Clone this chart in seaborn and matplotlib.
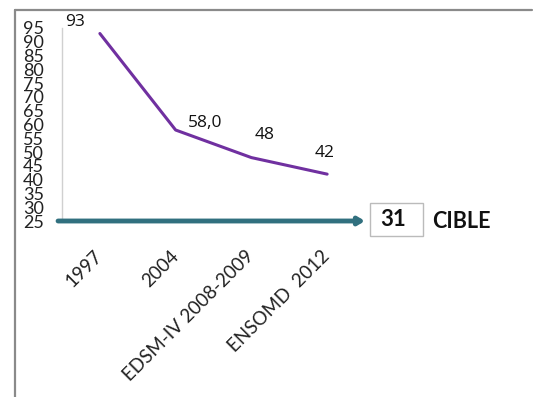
import matplotlib
matplotlib.use("Agg")
import matplotlib.pyplot as plt
from matplotlib.lines import Line2D
import pandas as pd
import seaborn as sns

# Survey rounds and the indicator value for each
periods = ["1997", "2004", "EDSM-IV 2008-2009", "ENSOMD  2012"]
values = [93, 58.0, 48, 42]
value_labels = ["93", "58,0", "48", "42"]
target = 31
target_label = "CIBLE"
y_ticks = list(range(25, 100, 5))

df = pd.DataFrame({"period": periods, "value": values})

sns.set_theme(style="white")
plt.rcParams["font.family"] = ["Lato", "DejaVu Sans"]

W, H = 533, 397
fig = plt.figure(figsize=(W / 100, H / 100), dpi=100)
fig.patch.set_facecolor("white")

ax = fig.add_axes([62 / W, 1 - 221 / H, 303 / W, (221 - 28) / H])
sns.lineplot(data=df, x="period", y="value", ax=ax, color="#7030a0",
             linewidth=2.2, sort=False)

ax.set_xlim(-0.5, 3.5)
ax.set_ylim(25, 95)
ax.set_yticks(y_ticks)
ax.set_yticklabels([str(t) for t in y_ticks], fontsize=13, color="#222222")
ax.set_xlabel("")
ax.set_ylabel("")
ax.tick_params(axis="y", length=0, pad=13)
ax.tick_params(axis="x", length=0, pad=23)
for lab in ax.get_xticklabels():
    lab.set_rotation(45)
    lab.set_ha("right")
    lab.set_va("center")
    lab.set_rotation_mode("anchor")
    lab.set_fontsize(13.5)
    lab.set_color("#222222")

for side in ["top", "right", "bottom"]:
    ax.spines[side].set_visible(False)
ax.spines["left"].set_color("#d0d0d0")
ax.spines["left"].set_linewidth(1.0)
ax.spines["left"].set_bounds(26, 95)

# Value labels next to each point
offsets = [(-18, 8.5), (21, 5), (9.5, 16), (-2, 15)]
for i, (v, txt, off) in enumerate(zip(values, value_labels, offsets)):
    ax.annotate(txt, xy=(i, v), xytext=off, textcoords="offset points",
                ha="center", va="center", fontsize=12.5, color="#111111",
                family=["Open Sans", "DejaVu Sans"])

# Target arrow along the baseline
ax.annotate("", xy=(1.0, 0.0), xytext=(-0.013, 0.0),
            xycoords="axes fraction", textcoords="axes fraction",
            arrowprops=dict(arrowstyle="-|>,head_length=0.3,head_width=0.18",
                            color="#31707f", lw=3.5, shrinkA=0, shrinkB=0),
            annotation_clip=False)

# Target value box and label
fig.patches.append(plt.Rectangle((370 / W, 1 - 236 / H), 53 / W, 33 / H,
                                 transform=fig.transFigure, fill=False,
                                 edgecolor="#bbbbbb", linewidth=1.0))
fig.text(393 / W, 1 - 220 / H, str(target), ha="center", va="center",
         fontsize=16, fontweight="bold", color="#111111")
fig.text(432 / W, 1 - 221 / H, target_label, ha="left", va="center",
         fontsize=15.5, fontweight="bold", color="#111111")

# Slide frame lines
fig.add_artist(Line2D([14.5 / W, 14.5 / W], [0, 1 - 9.5 / H],
                      transform=fig.transFigure, color="#8a8a8a", lw=1.6))
fig.add_artist(Line2D([14.5 / W, 532 / W], [1 - 9.5 / H, 1 - 9.5 / H],
                      transform=fig.transFigure, color="#8a8a8a", lw=1.6))

fig.savefig("out.png", dpi=100, facecolor="white")
